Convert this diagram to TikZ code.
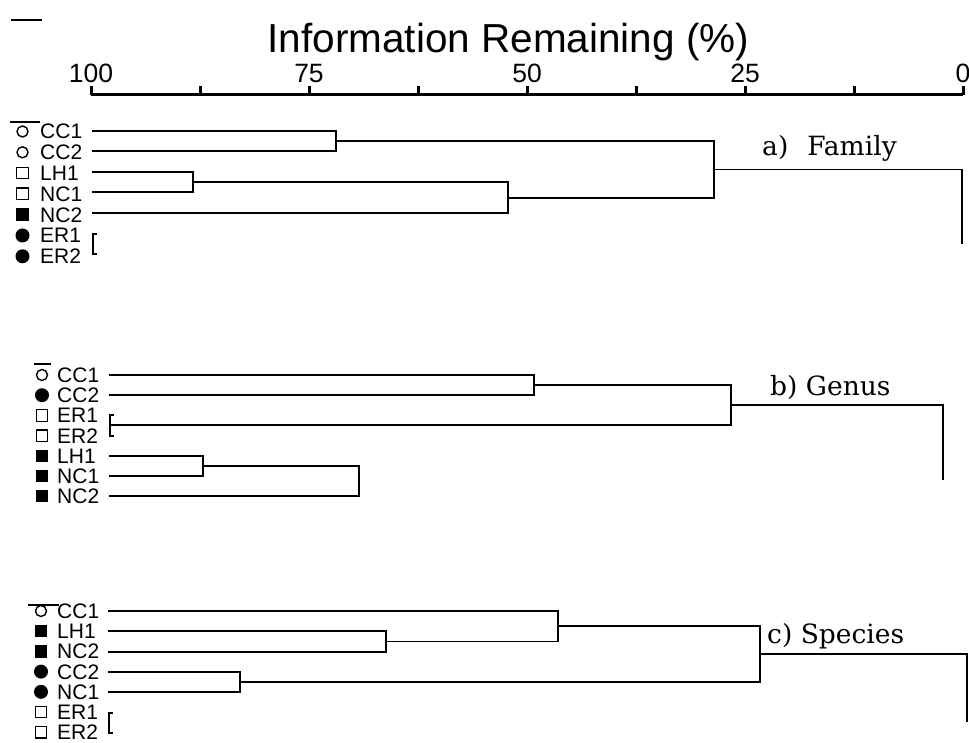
\documentclass[tikz,border=0pt]{standalone}
\usepackage{fontspec}
\setmainfont{Liberation Sans}
\newfontfamily\lblfont{DejaVu Serif}
\begin{document}
\begin{tikzpicture}[x=1pt,y=-1pt,
  dend/.style={line width=1.7pt,line cap=rect},
  axisline/.style={line width=3pt},
  leaf/.style={anchor=base west,inner sep=0pt,font=\fontsize{21}{22}\selectfont},
  ticklbl/.style={anchor=base,inner sep=0pt,font=\fontsize{26.5}{28}\selectfont},
  titlelbl/.style={anchor=base,inner sep=0pt,font=\fontsize{40.5}{42}\selectfont},
  panel/.style={anchor=base west,inner sep=0pt,font=\lblfont\fontsize{26.5}{28}\selectfont},
  ocirc/.style={circle,draw,line width=1.4pt,minimum size=11pt,inner sep=0pt},
  fcirc/.style={circle,fill,minimum size=14pt,inner sep=0pt},
  osq/.style={rectangle,draw,line width=1.3pt,minimum size=11.5pt,inner sep=0pt},
  fsq/.style={rectangle,fill,minimum size=12.5pt,inner sep=0pt},
]
\useasboundingbox (0,0) rectangle (969,743);

% stray short lines
\coordinate (s1a) at (12,20); \coordinate (s1b) at (41,20);
\coordinate (s2a) at (11,122); \coordinate (s2b) at (39,122);
\coordinate (s3a) at (35,364); \coordinate (s3b) at (50,364);
\coordinate (s4a) at (29,605); \coordinate (s4b) at (58,605);
\draw[dend] (s1a) -- (s1b);
\draw[dend] (s2a) -- (s2b);
\draw[dend] (s3a) -- (s3b);
\draw[dend] (s4a) -- (s4b);

% title and axis
\node[titlelbl] (title) at (508.5,53) {Information Remaining (\%)};
\coordinate (axL) at (91,95); \coordinate (axR) at (963,95);
\draw[axisline] (axL) -- (axR);
\foreach \k in {0,...,8} {
  \coordinate (tk\k) at ({91+109*\k},95);
  \draw[axisline] (tk\k) -- ++(0,-9);
}
\foreach \k/\l in {0/100,2/75,4/50,6/25,8/0} {
  \node[ticklbl] (tl\k) at ({91+109*\k},83) {\l};
}

% ---------- panel a ----------
\foreach \k/\m/\n in {0/ocirc/CC1,1/ocirc/CC2,2/osq/LH1,3/osq/NC1,4/fsq/NC2,5/fcirc/ER1,6/fcirc/ER2} {
  \node[\m] (amk\k) at (22.5,{131.5+20.8*\k}) {};
  \node[leaf] (alb\k) at (40,{139+20.8*\k}) {\n};
}
\coordinate (aCC1) at (93,130.7);
\coordinate (aCC2) at (93,151.3);
\coordinate (aLH1) at (93,172);
\coordinate (aNC1) at (93,192.3);
\coordinate (aNC2) at (93,213.3);
\coordinate (aERt) at (93,234);
\coordinate (aERb) at (93,254);
\coordinate (aM1) at (336,141);
\coordinate (aM2) at (193,182.2);
\coordinate (aM3) at (508,197.7);
\coordinate (aM4) at (714,169.4);
\coordinate (aEnd) at (962,243);
\draw[dend] (aCC1) -| (aM1);
\draw[dend] (aCC2) -| (aM1);
\draw[dend] (aLH1) -| (aM2);
\draw[dend] (aNC1) -| (aM2);
\draw[dend] (aM2) -| (aM3);
\draw[dend] (aNC2) -| (aM3);
\draw[dend] (aM1) -| (aM4);
\draw[dend] (aM3) -| (aM4);
\draw[dend] (aM4) -| (aEnd);
\draw[dend] (aERt) ++(3,0) -- (aERt) -- (aERb) -- ++(3,0);
\node[panel] (pa) at (762,156) {a)\hspace*{19pt}Family};

% ---------- panel b ----------
\foreach \k/\m/\n in {0/ocirc/CC1,1/fcirc/CC2,2/osq/ER1,3/osq/ER2,4/fsq/LH1,5/fsq/NC1,6/fsq/NC2} {
  \node[\m] (bmk\k) at (42,{375+20.2*\k}) {};
  \node[leaf] (blb\k) at (57,{382.5+20.2*\k}) {\n};
}
\coordinate (bCC1) at (110,374.7);
\coordinate (bCC2) at (110,394.7);
\coordinate (bERt) at (110,415);
\coordinate (bERb) at (110,436);
\coordinate (bERm) at (110,425);
\coordinate (bLH1) at (110,456);
\coordinate (bNC1) at (110,476);
\coordinate (bNC2) at (110,496);
\coordinate (bM1) at (534,384.7);
\coordinate (bM2) at (731,404.9);
\coordinate (bM3) at (203,466);
\coordinate (bM4) at (359,481);
\coordinate (bEnd) at (943,479);
\draw[dend] (bCC1) -| (bM1);
\draw[dend] (bCC2) -| (bM1);
\draw[dend] (bM1) -| (bM2);
\draw[dend] (bERm) -| (bM2);
\draw[dend] (bM2) -| (bEnd);
\draw[dend] (bLH1) -| (bM3);
\draw[dend] (bNC1) -| (bM3);
\draw[dend] (bM3) -| (bM4);
\draw[dend] (bNC2) -| (bM4);
\draw[dend] (bERt) ++(3,0) -- (bERt) -- (bERb) -- ++(3,0);
\node[panel] (pb) at (770,395) {b) Genus};

% ---------- panel c ----------
\foreach \k/\m/\n in {0/ocirc/CC1,1/fsq/LH1,2/fsq/NC2,3/fcirc/CC2,4/fcirc/NC1,5/osq/ER1,6/osq/ER2} {
  \node[\m] (cmk\k) at (41,{611+20.2*\k}) {};
  \node[leaf] (clb\k) at (57,{618.5+20.2*\k}) {\n};
}
\coordinate (cCC1) at (109,611);
\coordinate (cLH1) at (109,631);
\coordinate (cNC2) at (109,652);
\coordinate (cCC2) at (109,672);
\coordinate (cNC1) at (109,692);
\coordinate (cERt) at (109,713);
\coordinate (cERb) at (109,733);
\coordinate (cM1) at (386,641.5);
\coordinate (cM2) at (558,626.2);
\coordinate (cM3) at (240,682);
\coordinate (cM4) at (760,654);
\coordinate (cEnd) at (967,721);
\draw[dend] (cLH1) -| (cM1);
\draw[dend] (cNC2) -| (cM1);
\draw[dend] (cCC1) -| (cM2);
\draw[dend] (cM1) -| (cM2);
\draw[dend] (cCC2) -| (cM3);
\draw[dend] (cNC1) -| (cM3);
\draw[dend] (cM2) -| (cM4);
\draw[dend] (cM3) -| (cM4);
\draw[dend] (cM4) -| (cEnd);
\draw[dend] (cERt) ++(3,0) -- (cERt) -- (cERb) -- ++(3,0);
\node[panel] (pc) at (767,643) {c) Species};
\end{tikzpicture}
\end{document}
